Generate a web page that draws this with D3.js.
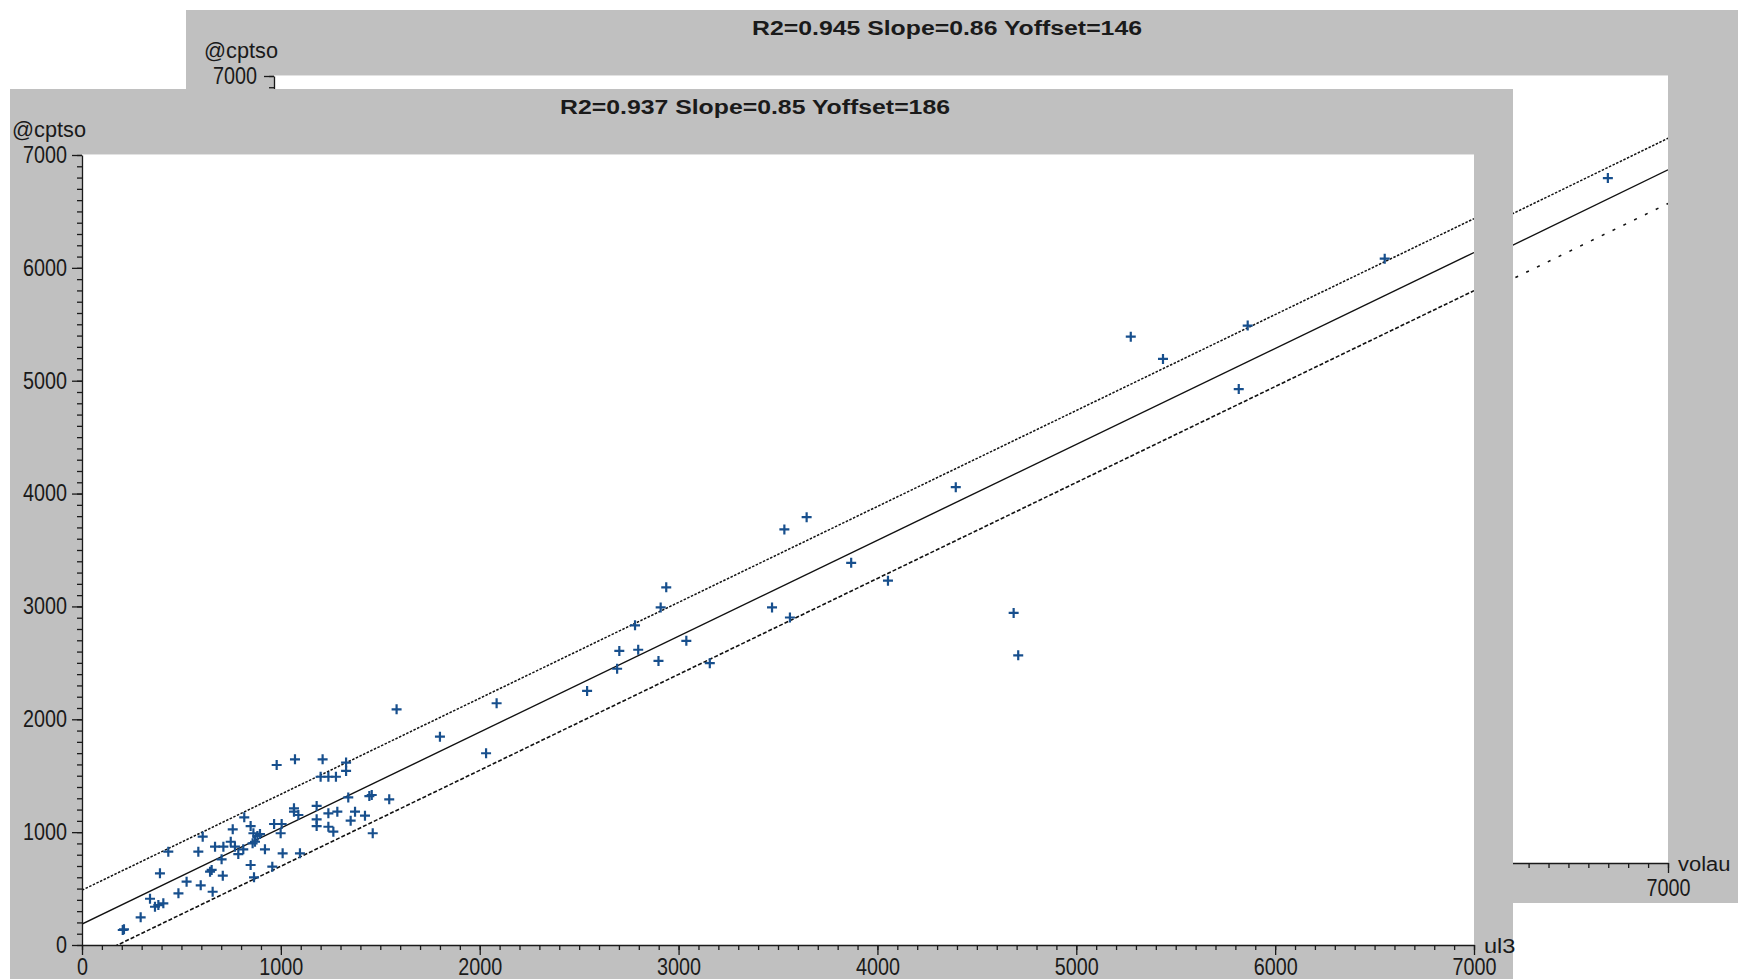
<!DOCTYPE html>
<html>
<head>
<meta charset="utf-8">
<script src="https://cdn.jsdelivr.net/npm/d3@7"></script>
<style>
  html, body { margin: 0; padding: 0; background: #ffffff; }
  svg { display: block; }
  text { font-family: "Liberation Sans", Arial, sans-serif; fill: #1a1a1a; }
</style>
</head>
<body>
<svg id="chart" width="1747" height="979"></svg>
<script>
// ---- data: front plot (ul3 vs @cptso) ----
const frontUl3 = [
  1582, 2085, 1800, 2032, 979, 1071, 1210, 1328, 1328, 1200, 1239, 1277,
  1339, 1445, 1457, 1545, 1066, 1066, 1088, 1180, 1239, 1284, 1373, 1423,
  1180, 1180, 1239, 1264, 1351, 1462, 816, 848, 862, 895, 882, 966,
  1004, 999, 858, 870, 920, 1009, 1096, 957, 848, 865, 758, 748,
  769, 786, 811, 669, 711, 607, 585, 702, 652, 644, 708, 597,
  657, 526, 485, 392, 434, 342, 367, 384, 409, 295, 205, 211,
  5274, 5436, 5862, 5817, 6551, 4394, 4685, 4708, 4053, 3868, 3532, 3644,
  3470, 3560, 2938, 2910, 2899, 2781, 2797, 2702, 2691, 2540, 3039, 3157
];
const frontCptso = [
  2088, 2142, 1846, 1699, 1595, 1645, 1645, 1616, 1542, 1491, 1491, 1491,
  1308, 1320, 1329, 1291, 1211, 1181, 1152, 1232, 1167, 1181, 1181, 1146,
  1114, 1054, 1048, 1004, 1102, 990, 1131, 1054, 990, 983, 966, 1072,
  1072, 990, 901, 915, 848, 812, 812, 694, 709, 600, 1025, 915,
  871, 806, 848, 871, 871, 960, 827, 759, 665, 650, 614, 529,
  472, 561, 458, 635, 827, 410, 339, 354, 369, 245, 133, 139,
  5390, 5193, 5489, 4926, 6081, 4057, 2942, 2567, 3228, 3386, 3682, 3791,
  2991, 2902, 3169, 2991, 2517, 2833, 2616, 2606, 2448, 2251, 2695, 2497
];
// fit: [R2, slope, yoffset], band offsets [above, below]
const frontFit = [0.937, 0.85, 186];
const frontBand = [300, 338];

// ---- data: back plot (volau vs @cptso), only the visible part ----
const backVolau = [6698];
const backCptso = [6092];
const backFit = [0.945, 0.86, 146];
const backBand = [280, 300];

// ---- axis ticks ----
const axisMax = 7000;
const minorStep = 100;
const majorStep = 1000;

const svg = d3.select("#chart");
const GRAY = "#c0c0c0";
const MARK = "#174f8d";

function drawPanel(cfg) {
  const g = svg.append("g");
  // window frame
  g.append("rect").attr("x", cfg.win[0]).attr("y", cfg.win[1])
    .attr("width", cfg.win[2] - cfg.win[0]).attr("height", cfg.win[3] - cfg.win[1])
    .attr("fill", GRAY);
  const x = d3.scaleLinear([0, axisMax], [cfg.plot[0], cfg.plot[2]]);
  const y = d3.scaleLinear([0, axisMax], [cfg.plot[3], cfg.plot[1]]);
  // plot background
  g.append("rect").attr("x", x(0)).attr("y", y(axisMax))
    .attr("width", x(axisMax) - x(0)).attr("height", y(0) - y(axisMax))
    .attr("fill", "#ffffff");
  g.append("line").attr("x1", x(0)).attr("x2", x(axisMax))
    .attr("y1", y(axisMax) - 0.5).attr("y2", y(axisMax) - 0.5)
    .attr("stroke", "#e2e2e2").attr("stroke-width", 1);

  // title
  g.append("text").attr("x", cfg.titleX).attr("y", cfg.win[1] + 18)
    .attr("text-anchor", "middle").attr("dominant-baseline", "central")
    .attr("font-size", 20).attr("font-weight", "bold")
    .attr("textLength", 390).attr("lengthAdjust", "spacingAndGlyphs")
    .text(`R2=${cfg.fit[0]} Slope=${cfg.fit[1]} Yoffset=${cfg.fit[2]}`);

  // regression line and band
  const clipId = cfg.id + "-clip";
  g.append("clipPath").attr("id", clipId).append("rect")
    .attr("x", x(0)).attr("y", y(axisMax))
    .attr("width", x(axisMax) - x(0)).attr("height", y(0) - y(axisMax));
  const lines = g.append("g").attr("clip-path", `url(#${clipId})`);
  const [, slope, off] = cfg.fit;
  const specs = [
    { d: cfg.band[0], dash: "2.5,1.5", w: 1.5 },
    { d: 0, dash: null, w: 1.4 },
    { d: -cfg.band[1], dash: cfg.lowerDash, w: 1.6 }
  ];
  const xs = [0, axisMax];
  specs.forEach(s => {
    lines.append("path")
      .attr("d", d3.line().x(v => x(v)).y(v => y(slope * v + off + s.d))(xs))
      .attr("fill", "none").attr("stroke", "#111")
      .attr("stroke-width", s.w)
      .attr("stroke-dasharray", s.dash);
  });

  // points
  const pts = cfg.xs.map((v, i) => [v, cfg.ys[i]]);
  g.append("g").selectAll("path").data(pts).join("path")
    .attr("transform", d => `translate(${x(d[0])},${y(d[1])})`)
    .attr("d", "M-5,0H5M0,-5V5")
    .attr("stroke", MARK).attr("stroke-width", 2.2).attr("fill", "none");

  // axes: minor ticks every 100, major every 1000 with labels
  const minorVals = d3.range(0, axisMax + 1, minorStep);
  const majorVals = d3.range(0, axisMax + 1, majorStep);
  const fmt = d3.format("d");
  const styleAxis = sel => {
    sel.selectAll("path,line").attr("stroke", "#1a1a1a").attr("stroke-width", 1.3);
    sel.selectAll("text").attr("font-size", 23).attr("fill", "#1a1a1a")
      .attr("font-family", "'Liberation Sans', Arial, sans-serif")
      .attr("textLength", function () { return this.textContent.length * 11; })
      .attr("lengthAdjust", "spacingAndGlyphs");
  };
  g.append("g").attr("transform", `translate(0,${y(0)})`)
    .call(d3.axisBottom(x).tickValues(minorVals).tickSize(5).tickSizeOuter(0).tickFormat(""))
    .call(styleAxis);
  g.append("g").attr("transform", `translate(0,${y(0)})`)
    .call(d3.axisBottom(x).tickValues(majorVals).tickSize(10).tickSizeOuter(0)
      .tickPadding(cfg.xPad).tickFormat(fmt))
    .call(a => a.select(".domain").remove())
    .call(styleAxis);
  g.append("g").attr("transform", `translate(${x(0)},0)`)
    .call(d3.axisLeft(y).tickValues(minorVals).tickSize(5).tickSizeOuter(0).tickFormat(""))
    .call(styleAxis);
  g.append("g").attr("transform", `translate(${x(0)},0)`)
    .call(d3.axisLeft(y).tickValues(majorVals).tickSize(10).tickSizeOuter(0)
      .tickPadding(cfg.yPad).tickFormat(fmt))
    .call(a => a.select(".domain").remove())
    .call(styleAxis);

  // axis names
  g.append("text").attr("x", x(0) - 70).attr("y", y(axisMax) - 18)
    .attr("font-size", 22).attr("textLength", 74).attr("lengthAdjust", "spacingAndGlyphs")
    .text("@cptso");
  g.append("text").attr("x", x(axisMax) + 10).attr("y", y(0) + 1)
    .attr("dominant-baseline", "central").attr("font-size", 20)
    .attr("textLength", cfg.xName.length * 10.5).attr("lengthAdjust", "spacingAndGlyphs")
    .text(cfg.xName);
}

// back window first, front window on top of it
drawPanel({
  id: "back", win: [186, 10, 1738, 903], plot: [274, 76, 1668, 863],
  titleX: 947, fit: backFit, band: backBand, lowerDash: "3,9",
  xs: backVolau, ys: backCptso, xName: "volau", xPad: 7, yPad: 7
});
drawPanel({
  id: "front", win: [10, 89, 1513, 985], plot: [82, 155, 1474, 945],
  titleX: 755, fit: frontFit, band: frontBand, lowerDash: "4,2",
  xs: frontUl3, ys: frontCptso, xName: "ul3", xPad: 4, yPad: 5
});
</script>
</body>
</html>
